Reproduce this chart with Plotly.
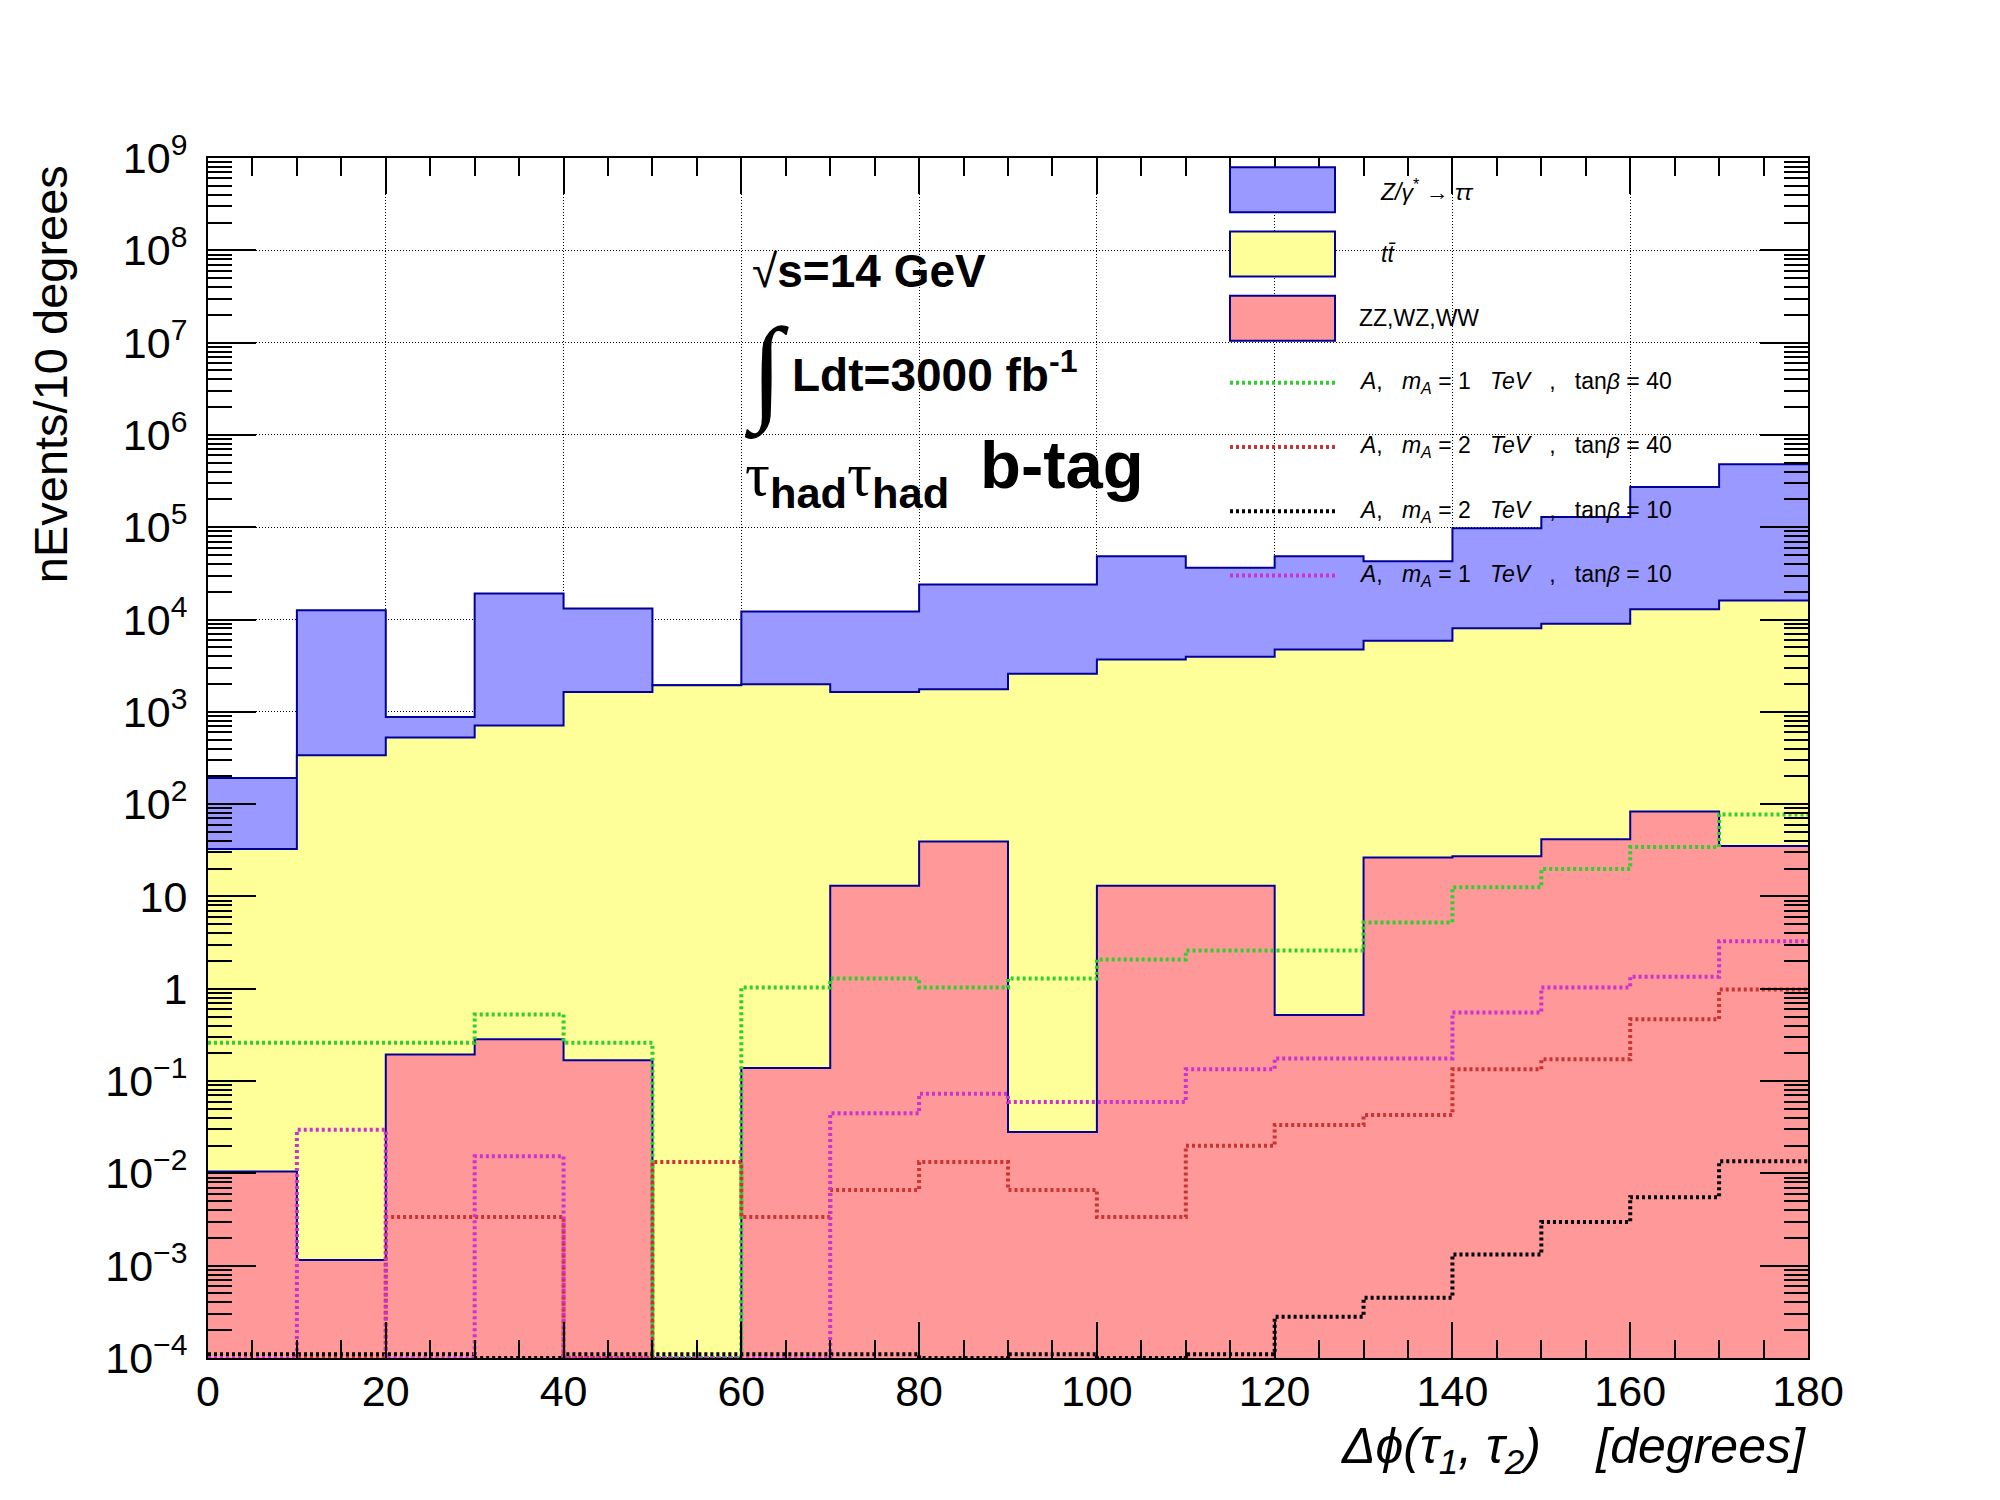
import numpy as np
import plotly.graph_objects as go

# ── Binning (10 degree bins) ──────────────────────────────────────────────────
BIN_EDGES = list(range(0, 181, 10))

# ── Backgrounds (events / bin) ────────────────────────────────────────────────
ZTAUTAU = [159, 12260, 353, 18490, 11560, 0, 10210, 10555, 22240,
           21410, 44900, 32350, 43870, 37000, 89630, 119980, 260100, 463900]
TTBAR   = [32.7, 338, 527, 713, 1645, 1940, 1990, 1632, 1721,
           2590, 3687, 3937, 4729, 5873, 8043, 8978, 12817, 16065]
DIBOSON = [0.0105, 0.00115, 0.194, 0.284, 0.168, 0, 0.139, 13.1, 39.3,
           0.028, 13.1, 13.1, 0.52, 26.5, 27.2, 41.7, 83, 35.2]

# ── Signals ───────────────────────────────────────────────────────────────────
SIG_MA1_TB40 = [0.26, 0.26, 0.26, 0.527, 0.26, 0, 1.03, 1.29, 1.03,
                1.29, 2.07, 2.6, 2.6, 5.23, 12.6, 19.8, 34.3, 77.4]
SIG_MA2_TB40 = [0, 0, 0.00336, 0.00336, 0, 0.01325, 0.00336, 0.00662, 0.01325,
                0.00662, 0.00336, 0.0199, 0.0334, 0.043, 0.134, 0.172, 0.468, 0.98]
SIG_MA2_TB10 = [1.1e-4, 1.1e-4, 1.1e-4, 0, 1.1e-4, 1.1e-4, 1.1e-4, 1.1e-4, 0,
                1.1e-4, 0, 1.1e-4, 2.8e-4, 4.5e-4, 1.32e-3, 2.97e-3, 5.53e-3, 0.0135]
SIG_MA1_TB10 = [0, 0.0297, 0, 0.0153, 0, 0, 0, 0.0447, 0.0728,
                0.0594, 0.0594, 0.134, 0.176, 0.176, 0.552, 1.03, 1.35, 3.27]

Y_TICK_EXP = list(range(-4, 10))
Y_FLOOR = 1e-4   # empty bins are drawn on the bottom of the pad, like ROOT

FONT = "Liberation Sans"
SERIF = "Liberation Serif"
NAVY = "#000099"


def steps(vals):
    y = np.clip(np.asarray(vals, dtype=float), Y_FLOOR, None)
    return list(y) + [y[-1]]


def tick_label(e):
    if e == 0:
        return "1"
    if e == 1:
        return "10"
    return "10<sup>" + str(e).replace("-", "\u2212") + "</sup>"


zz = np.array(DIBOSON)
tt_top = zz + np.array(TTBAR)
tot_top = tt_top + np.array(ZTAUTAU)

fig = go.Figure()

# stacked backgrounds (cumulative histograms, largest first)
for top, col in [(tot_top, "#9999ff"), (tt_top, "#ffff99"), (zz, "#ff9999")]:
    fig.add_trace(go.Scatter(
        x=BIN_EDGES, y=steps(top), mode="lines", line_shape="hv",
        line=dict(color=NAVY, width=2), fill="tozeroy", fillcolor=col,
        showlegend=False, hoverinfo="skip",
    ))

SIGNALS = [
    (SIG_MA1_TB40, "#33cc33", "1", "40"),
    (SIG_MA2_TB40, "#cc3333", "2", "40"),
    (SIG_MA2_TB10, "#000000", "2", "10"),
    (SIG_MA1_TB10, "#cc33cc", "1", "10"),
]
for vals, col, _, _ in SIGNALS:
    fig.add_trace(go.Scatter(
        x=BIN_EDGES, y=steps(vals), mode="lines", line_shape="hv",
        line=dict(color=col, width=4, dash="3px,3px"),
        showlegend=False, hoverinfo="skip",
    ))

# ── ROOT-style legend ─────────────────────────────────────────────────────────
LEG_X0, LEG_X1 = 0.63875, 0.704375
LEG_TOP, LEG_STEP, BOX_H = 0.9736, 0.0536, 0.0375
SP = "\u00a0\u00a0\u00a0"
leg_texts = [
    ("<i>Z/γ</i><sup>*</sup> → <i>ττ</i>", 0.731),
    ("<i>tt\u0304</i>", 0.732),
    ("ZZ,WZ,WW", 0.718),
]
for i, (col, (txt, tx)) in enumerate(zip(["#9999ff", "#ffff99", "#ff9999"], leg_texts)):
    yc = LEG_TOP - i * LEG_STEP
    fig.add_shape(type="rect", xref="paper", yref="paper",
                  x0=LEG_X0, x1=LEG_X1, y0=yc - BOX_H / 2, y1=yc + BOX_H / 2,
                  fillcolor=col, line=dict(color=NAVY, width=2))
    fig.add_annotation(xref="paper", yref="paper", x=tx, y=yc, text=txt,
                       xanchor="left", yanchor="middle", showarrow=False,
                       font=dict(family=FONT, size=23, color="black"))
for j, (_, col, ma, tb) in enumerate(SIGNALS):
    yc = LEG_TOP - (j + 3) * LEG_STEP
    fig.add_shape(type="line", xref="paper", yref="paper",
                  x0=LEG_X0, x1=LEG_X1, y0=yc, y1=yc,
                  line=dict(color=col, width=4, dash="3px,3px"))
    txt = (f"<i>A</i>,{SP}<i>m<sub>A</sub></i> = {ma}{SP}<i>TeV</i>{SP},{SP}"
           f"tan<i>β</i> = {tb}")
    fig.add_annotation(xref="paper", yref="paper", x=0.718, y=yc, text=txt,
                       xanchor="left", yanchor="middle", showarrow=False,
                       font=dict(family=FONT, size=23, color="black"))

# ── Labels in the pad ─────────────────────────────────────────────────────────
fig.add_annotation(xref="paper", yref="paper", x=0.3387, y=0.906,
                   text="√<b>s=14 GeV</b>", xanchor="left", yanchor="middle",
                   showarrow=False, font=dict(family=FONT, size=46, color="black"))
fig.add_annotation(xref="paper", yref="paper", x=0.334, y=0.821, text="∫",
                   xanchor="left", yanchor="middle", showarrow=False,
                   font=dict(family=SERIF, size=116, color="black"))
fig.add_annotation(xref="paper", yref="paper", x=0.3637, y=0.822,
                   text="<b>Ldt=3000 fb<sup>-1</sup></b>", xanchor="left", yanchor="middle",
                   showarrow=False, font=dict(family=FONT, size=46, color="black"))
fig.add_annotation(xref="paper", yref="paper", x=0.3345, y=0.733,
                   text=(f"<span style='font-family:{SERIF}'>τ</span><sub><b>had</b></sub>"
                         f"<span style='font-family:{SERIF}'>τ</span><sub><b>had</b></sub>"),
                   xanchor="left", yanchor="middle", showarrow=False,
                   font=dict(family=FONT, size=62, color="black"))
fig.add_annotation(xref="paper", yref="paper", x=0.481, y=0.745,
                   text="<b>b-tag</b>", xanchor="left", yanchor="middle",
                   showarrow=False, font=dict(family=FONT, size=67, color="black"))

# axis titles (ROOT puts them at the end of the axis)
fig.add_annotation(xref="paper", yref="paper", x=-0.0985, y=0.996,
                   text="nEvents/10 degrees", textangle=-90,
                   xanchor="center", yanchor="top", showarrow=False,
                   font=dict(family=FONT, size=47, color="black"))
fig.add_annotation(xref="paper", yref="paper", x=1.0, y=-0.076,
                   text="<i>Δϕ(τ<sub>1</sub>, τ<sub>2</sub>)" + SP + "\u00a0[degrees]</i>",
                   xanchor="right", yanchor="middle", showarrow=False,
                   font=dict(family=FONT, size=50, color="black"))

fig.update_layout(
    width=2000, height=1500,
    margin=dict(l=200, r=200, t=150, b=150),
    paper_bgcolor="white", plot_bgcolor="white",
    showlegend=False,
    font=dict(family=FONT, color="black"),
)
fig.update_xaxes(
    range=[0, 180], tickmode="linear", tick0=0, dtick=20,
    ticks="inside", ticklen=36, tickwidth=2, tickcolor="black",
    minor=dict(dtick=5, ticks="inside", ticklen=18, tickwidth=2, tickcolor="black"),
    showline=True, linecolor="black", linewidth=2, mirror="allticks",
    showgrid=True, gridcolor="black", gridwidth=1, griddash="1px,2px",
    tickfont=dict(family=FONT, size=43, color="black"), ticklabelstandoff=-6,
    zeroline=False,
)
fig.update_yaxes(
    type="log", range=[-4, 9],
    tickmode="array", tickvals=[10.0 ** e for e in Y_TICK_EXP],
    ticktext=[tick_label(e) for e in Y_TICK_EXP],
    ticks="inside", ticklen=48, tickwidth=2, tickcolor="black",
    minor=dict(dtick="D1", ticks="inside", ticklen=24, tickwidth=2, tickcolor="black"),
    showline=True, linecolor="black", linewidth=2, mirror="allticks",
    showgrid=True, gridcolor="black", gridwidth=1, griddash="1px,2px",
    tickfont=dict(family=FONT, size=43, color="black"), ticklabelstandoff=10,
    zeroline=False,
)

fig.write_html("out.html")
